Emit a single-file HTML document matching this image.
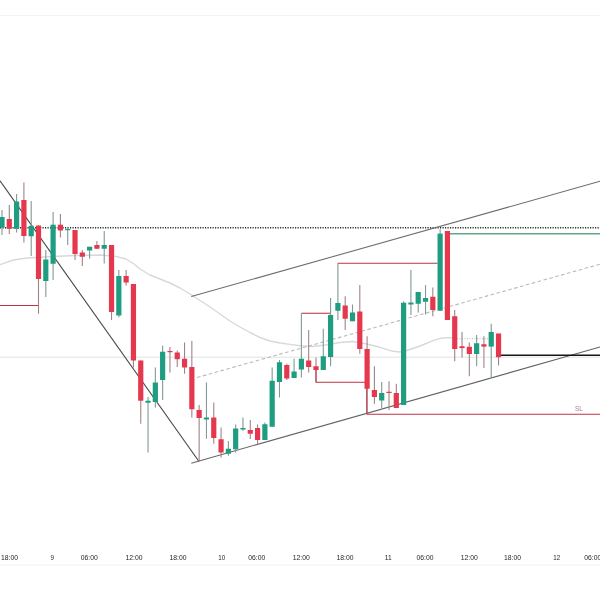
<!DOCTYPE html>
<html><head><meta charset="utf-8"><title>Chart</title>
<style>html,body{margin:0;padding:0;background:#fff;overflow:hidden}svg{display:block}text{font-family:"Liberation Sans",sans-serif}</style></head><body>
<svg width="600" height="600" viewBox="0 0 600 600">
<rect width="600" height="600" fill="#ffffff"/>
<line x1="0" y1="15.5" x2="600" y2="15.5" stroke="#f3f3f3" stroke-width="1"/>
<line x1="0" y1="565" x2="600" y2="565" stroke="#f1f1f1" stroke-width="1"/>
<line x1="0" y1="357.2" x2="600" y2="357.2" stroke="#dadada" stroke-width="0.8"/>
<polyline fill="none" stroke="#d5dad9" stroke-width="1.4" stroke-linejoin="round" points="0,264.7 13.3,260 26.7,258 40,257.2 53,256.5 75,255.5 100,255 116,256.4 126,259 134,264 140,269 150,275 160,279 170,283 180,288 190,294 200,300.5 210,307 220,314 230,321 240,327 250,332.5 260,337.5 270,341 280,343 290,344.4 300,345.8 313,346.5 326.7,344.7 340,342.5 353,341.5 366.7,344 380,347.3 393,351.3 400,352 406.7,350.5 420,346 433,340.7 441,338.2 449,337.6 457,338.2"/>
<line x1="457" y1="338.75" x2="488" y2="338.75" stroke="#9fb5ad" stroke-width="0.9" stroke-dasharray="1 1.5"/>
<line x1="0" y1="227.75" x2="600" y2="227.75" stroke="#2e2e2e" stroke-width="1.3" stroke-dasharray="1.2 1.3"/>
<line x1="0" y1="180.8" x2="199" y2="461.5" stroke="#444" stroke-width="1.1"/>
<line x1="191.3" y1="463.2" x2="600" y2="347" stroke="#646464" stroke-width="1.05"/>
<line x1="191.25" y1="296.6" x2="600" y2="181.2" stroke="#6c6c6c" stroke-width="1.05"/>
<line x1="197" y1="377.5" x2="600" y2="264.2" stroke="#bababa" stroke-width="1.1" stroke-dasharray="3.6 2.5"/>
<line x1="447" y1="233.75" x2="600" y2="233.75" stroke="#5fa886" stroke-width="1.4"/>
<g stroke="#be3042" stroke-width="1.05" fill="none">
<line x1="0" y1="305.5" x2="38.3" y2="305.5"/>
<line x1="301.5" y1="313.25" x2="330.5" y2="313.25"/>
<line x1="316" y1="382.25" x2="367" y2="382.25"/>
<line x1="337.75" y1="263.25" x2="437.5" y2="263.25"/>
<line x1="367" y1="414.25" x2="600" y2="414.25"/>
</g>
<line x1="500" y1="355.3" x2="600" y2="355.3" stroke="#151515" stroke-width="1.6"/>
<line x1="2.00" y1="210" x2="2.00" y2="235" stroke="#809a94" stroke-width="1.1"/>
<rect x="-0.60" y="217" width="5.2" height="10.5" fill="#1f9d80"/>
<line x1="9.30" y1="205" x2="9.30" y2="234" stroke="#a08388" stroke-width="1.1"/>
<rect x="6.70" y="219" width="5.2" height="9.75" fill="#e5384e"/>
<line x1="16.60" y1="194" x2="16.60" y2="232.5" stroke="#809a94" stroke-width="1.1"/>
<rect x="14.00" y="201.5" width="5.2" height="27.25" fill="#1f9d80"/>
<line x1="23.91" y1="182.5" x2="23.91" y2="242.5" stroke="#a08388" stroke-width="1.1"/>
<rect x="21.31" y="200" width="5.2" height="36" fill="#e5384e"/>
<line x1="31.21" y1="201" x2="31.21" y2="256" stroke="#809a94" stroke-width="1.1"/>
<rect x="28.61" y="225.8" width="5.2" height="10.45" fill="#1f9d80"/>
<line x1="38.51" y1="225.5" x2="38.51" y2="313.75" stroke="#a08388" stroke-width="1.1"/>
<rect x="35.91" y="225.5" width="5.2" height="53.5" fill="#e5384e"/>
<line x1="45.81" y1="250" x2="45.81" y2="297" stroke="#809a94" stroke-width="1.1"/>
<rect x="43.21" y="259.5" width="5.2" height="21.5" fill="#1f9d80"/>
<line x1="53.11" y1="212" x2="53.11" y2="280" stroke="#809a94" stroke-width="1.1"/>
<rect x="50.51" y="224.7" width="5.2" height="39.05" fill="#1f9d80"/>
<line x1="60.42" y1="214" x2="60.42" y2="237.5" stroke="#a08388" stroke-width="1.1"/>
<rect x="57.82" y="224.7" width="5.2" height="5.8" fill="#e5384e"/>
<line x1="67.72" y1="227.5" x2="67.72" y2="245" stroke="#809a94" stroke-width="1.1"/>
<rect x="65.12" y="229" width="5.2" height="1.2" fill="#1f9d80"/>
<line x1="75.02" y1="230" x2="75.02" y2="260" stroke="#a08388" stroke-width="1.1"/>
<rect x="72.42" y="230" width="5.2" height="24" fill="#e5384e"/>
<line x1="82.32" y1="250" x2="82.32" y2="266" stroke="#a08388" stroke-width="1.1"/>
<rect x="79.72" y="252.5" width="5.2" height="4.25" fill="#e5384e"/>
<line x1="89.62" y1="246.75" x2="89.62" y2="258.75" stroke="#809a94" stroke-width="1.1"/>
<rect x="87.02" y="246.75" width="5.2" height="3.75" fill="#1f9d80"/>
<line x1="96.93" y1="241" x2="96.93" y2="249" stroke="#a08388" stroke-width="1.1"/>
<rect x="94.33" y="245" width="5.2" height="3.75" fill="#e5384e"/>
<line x1="104.23" y1="231" x2="104.23" y2="263.5" stroke="#809a94" stroke-width="1.1"/>
<rect x="101.63" y="245" width="5.2" height="3.75" fill="#1f9d80"/>
<line x1="111.53" y1="245" x2="111.53" y2="320" stroke="#a08388" stroke-width="1.1"/>
<rect x="108.93" y="245" width="5.2" height="67" fill="#e5384e"/>
<line x1="118.83" y1="270" x2="118.83" y2="317.5" stroke="#809a94" stroke-width="1.1"/>
<rect x="116.23" y="276" width="5.2" height="39.5" fill="#1f9d80"/>
<line x1="126.13" y1="270" x2="126.13" y2="285.5" stroke="#a08388" stroke-width="1.1"/>
<rect x="123.53" y="276" width="5.2" height="6.5" fill="#e5384e"/>
<line x1="133.44" y1="284" x2="133.44" y2="367.5" stroke="#a08388" stroke-width="1.1"/>
<rect x="130.84" y="284" width="5.2" height="76.5" fill="#e5384e"/>
<line x1="140.74" y1="360.5" x2="140.74" y2="423.75" stroke="#a08388" stroke-width="1.1"/>
<rect x="138.14" y="360.5" width="5.2" height="40.25" fill="#e5384e"/>
<line x1="148.04" y1="397" x2="148.04" y2="452.5" stroke="#809a94" stroke-width="1.1"/>
<rect x="145.44" y="400.75" width="5.2" height="2" fill="#1f9d80"/>
<line x1="155.34" y1="367.5" x2="155.34" y2="407.5" stroke="#809a94" stroke-width="1.1"/>
<rect x="152.74" y="382.5" width="5.2" height="19.5" fill="#1f9d80"/>
<line x1="162.64" y1="345.5" x2="162.64" y2="400" stroke="#809a94" stroke-width="1.1"/>
<rect x="160.04" y="351.75" width="5.2" height="28.25" fill="#1f9d80"/>
<line x1="169.95" y1="347" x2="169.95" y2="372.5" stroke="#a08388" stroke-width="1.1"/>
<rect x="167.35" y="351" width="5.2" height="1.2" fill="#e5384e"/>
<line x1="177.25" y1="350.5" x2="177.25" y2="367" stroke="#a08388" stroke-width="1.1"/>
<rect x="174.65" y="352.5" width="5.2" height="6.75" fill="#e5384e"/>
<line x1="184.55" y1="342.5" x2="184.55" y2="373.75" stroke="#a08388" stroke-width="1.1"/>
<rect x="181.95" y="358.75" width="5.2" height="8.75" fill="#e5384e"/>
<line x1="191.85" y1="341" x2="191.85" y2="417.5" stroke="#a08388" stroke-width="1.1"/>
<rect x="189.25" y="367" width="5.2" height="42.25" fill="#e5384e"/>
<line x1="199.15" y1="405" x2="199.15" y2="461" stroke="#a08388" stroke-width="1.1"/>
<rect x="196.55" y="410" width="5.2" height="8" fill="#e5384e"/>
<line x1="206.46" y1="382.5" x2="206.46" y2="438.75" stroke="#809a94" stroke-width="1.1"/>
<rect x="203.86" y="417.5" width="5.2" height="2" fill="#1f9d80"/>
<line x1="213.76" y1="402.5" x2="213.76" y2="443.75" stroke="#a08388" stroke-width="1.1"/>
<rect x="211.16" y="417.5" width="5.2" height="20.5" fill="#e5384e"/>
<line x1="221.06" y1="427.5" x2="221.06" y2="457.5" stroke="#a08388" stroke-width="1.1"/>
<rect x="218.46" y="439.25" width="5.2" height="13.25" fill="#e5384e"/>
<line x1="228.36" y1="441" x2="228.36" y2="455.75" stroke="#809a94" stroke-width="1.1"/>
<rect x="225.76" y="448.75" width="5.2" height="5" fill="#1f9d80"/>
<line x1="235.66" y1="424.5" x2="235.66" y2="452.5" stroke="#809a94" stroke-width="1.1"/>
<rect x="233.06" y="428.5" width="5.2" height="20.75" fill="#1f9d80"/>
<line x1="242.97" y1="417.5" x2="242.97" y2="431" stroke="#809a94" stroke-width="1.1"/>
<rect x="240.37" y="428" width="5.2" height="1.5" fill="#1f9d80"/>
<line x1="250.27" y1="420" x2="250.27" y2="439" stroke="#a08388" stroke-width="1.1"/>
<rect x="247.67" y="430" width="5.2" height="3.75" fill="#e5384e"/>
<line x1="257.57" y1="424.5" x2="257.57" y2="443.75" stroke="#a08388" stroke-width="1.1"/>
<rect x="254.97" y="428" width="5.2" height="12" fill="#e5384e"/>
<line x1="264.87" y1="422.5" x2="264.87" y2="440" stroke="#809a94" stroke-width="1.1"/>
<rect x="262.27" y="424.25" width="5.2" height="15.75" fill="#1f9d80"/>
<line x1="272.17" y1="367.5" x2="272.17" y2="426.75" stroke="#809a94" stroke-width="1.1"/>
<rect x="269.57" y="380.75" width="5.2" height="46" fill="#1f9d80"/>
<line x1="279.48" y1="360" x2="279.48" y2="397.5" stroke="#809a94" stroke-width="1.1"/>
<rect x="276.88" y="362.25" width="5.2" height="19.75" fill="#1f9d80"/>
<line x1="286.78" y1="363.75" x2="286.78" y2="380" stroke="#a08388" stroke-width="1.1"/>
<rect x="284.18" y="365" width="5.2" height="13.5" fill="#e5384e"/>
<line x1="294.08" y1="358.75" x2="294.08" y2="378" stroke="#809a94" stroke-width="1.1"/>
<rect x="291.48" y="371.5" width="5.2" height="6.5" fill="#1f9d80"/>
<line x1="301.38" y1="313.25" x2="301.38" y2="377.5" stroke="#809a94" stroke-width="1.1"/>
<rect x="298.78" y="358.75" width="5.2" height="10.75" fill="#1f9d80"/>
<line x1="308.68" y1="330" x2="308.68" y2="372.5" stroke="#a08388" stroke-width="1.1"/>
<rect x="306.08" y="360.5" width="5.2" height="6.5" fill="#e5384e"/>
<line x1="315.99" y1="357.5" x2="315.99" y2="382.5" stroke="#a08388" stroke-width="1.1"/>
<rect x="313.39" y="366.25" width="5.2" height="3.75" fill="#e5384e"/>
<line x1="323.29" y1="328.75" x2="323.29" y2="370" stroke="#809a94" stroke-width="1.1"/>
<rect x="320.69" y="356.25" width="5.2" height="13.75" fill="#1f9d80"/>
<line x1="330.59" y1="298" x2="330.59" y2="366.25" stroke="#809a94" stroke-width="1.1"/>
<rect x="327.99" y="315" width="5.2" height="42" fill="#1f9d80"/>
<line x1="337.89" y1="263.25" x2="337.89" y2="320" stroke="#809a94" stroke-width="1.1"/>
<rect x="335.29" y="303" width="5.2" height="7.75" fill="#1f9d80"/>
<line x1="345.19" y1="296.25" x2="345.19" y2="330" stroke="#a08388" stroke-width="1.1"/>
<rect x="342.59" y="305.5" width="5.2" height="13.25" fill="#e5384e"/>
<line x1="352.50" y1="304.5" x2="352.50" y2="321.25" stroke="#809a94" stroke-width="1.1"/>
<rect x="349.90" y="312.5" width="5.2" height="8.75" fill="#1f9d80"/>
<line x1="359.80" y1="285" x2="359.80" y2="353.75" stroke="#a08388" stroke-width="1.1"/>
<rect x="357.20" y="311.5" width="5.2" height="37.5" fill="#e5384e"/>
<line x1="367.10" y1="336.25" x2="367.10" y2="413.75" stroke="#a08388" stroke-width="1.1"/>
<rect x="364.50" y="349" width="5.2" height="39.75" fill="#e5384e"/>
<line x1="374.40" y1="366.25" x2="374.40" y2="403.75" stroke="#a08388" stroke-width="1.1"/>
<rect x="371.80" y="390" width="5.2" height="7" fill="#e5384e"/>
<line x1="381.70" y1="382" x2="381.70" y2="408" stroke="#809a94" stroke-width="1.1"/>
<rect x="379.10" y="393" width="5.2" height="7.5" fill="#1f9d80"/>
<line x1="389.01" y1="381.25" x2="389.01" y2="410" stroke="#a08388" stroke-width="1.1"/>
<rect x="386.41" y="391.75" width="5.2" height="1.25" fill="#e5384e"/>
<line x1="396.31" y1="383.75" x2="396.31" y2="408" stroke="#a08388" stroke-width="1.1"/>
<rect x="393.71" y="393" width="5.2" height="15" fill="#e5384e"/>
<line x1="403.61" y1="301.25" x2="403.61" y2="405" stroke="#809a94" stroke-width="1.1"/>
<rect x="401.01" y="302.75" width="5.2" height="102.25" fill="#1f9d80"/>
<line x1="410.91" y1="270" x2="410.91" y2="315" stroke="#809a94" stroke-width="1.1"/>
<rect x="408.31" y="302.5" width="5.2" height="2" fill="#1f9d80"/>
<line x1="418.21" y1="292" x2="418.21" y2="312.5" stroke="#809a94" stroke-width="1.1"/>
<rect x="415.61" y="292" width="5.2" height="11.75" fill="#1f9d80"/>
<line x1="425.52" y1="285" x2="425.52" y2="314.5" stroke="#809a94" stroke-width="1.1"/>
<rect x="422.92" y="298" width="5.2" height="3.75" fill="#1f9d80"/>
<line x1="432.82" y1="287.5" x2="432.82" y2="316.25" stroke="#a08388" stroke-width="1.1"/>
<rect x="430.22" y="296.75" width="5.2" height="13.25" fill="#e5384e"/>
<line x1="440.12" y1="229.25" x2="440.12" y2="310.75" stroke="#809a94" stroke-width="1.1"/>
<rect x="437.52" y="233.6" width="5.2" height="77.15" fill="#1f9d80"/>
<line x1="447.42" y1="231" x2="447.42" y2="320" stroke="#a08388" stroke-width="1.1"/>
<rect x="444.82" y="231" width="5.2" height="89" fill="#e5384e"/>
<line x1="454.72" y1="310" x2="454.72" y2="361.25" stroke="#a08388" stroke-width="1.1"/>
<rect x="452.12" y="316.25" width="5.2" height="32.75" fill="#e5384e"/>
<line x1="462.03" y1="332" x2="462.03" y2="357.5" stroke="#a08388" stroke-width="1.1"/>
<rect x="459.43" y="346.25" width="5.2" height="1.85" fill="#e5384e"/>
<line x1="469.33" y1="342.5" x2="469.33" y2="376.25" stroke="#a08388" stroke-width="1.1"/>
<rect x="466.73" y="346.75" width="5.2" height="7.25" fill="#e5384e"/>
<line x1="476.63" y1="335" x2="476.63" y2="366.25" stroke="#809a94" stroke-width="1.1"/>
<rect x="474.03" y="343.25" width="5.2" height="10.75" fill="#1f9d80"/>
<line x1="483.93" y1="336.25" x2="483.93" y2="368" stroke="#a08388" stroke-width="1.1"/>
<rect x="481.33" y="344.25" width="5.2" height="2.35" fill="#e5384e"/>
<line x1="491.23" y1="323.75" x2="491.23" y2="377.5" stroke="#809a94" stroke-width="1.1"/>
<rect x="488.63" y="332" width="5.2" height="14.6" fill="#1f9d80"/>
<line x1="498.54" y1="333.5" x2="498.54" y2="365.5" stroke="#a08388" stroke-width="1.1"/>
<rect x="495.94" y="333.5" width="5.2" height="23.75" fill="#e5384e"/>
<g stroke="#be3042" stroke-width="1.05" fill="none">
<line x1="316.0" y1="370" x2="316.0" y2="382.25"/>
<line x1="366.8" y1="388" x2="366.8" y2="414.25"/>
</g>
<text x="579" y="410.9" font-size="6.4" fill="#a8808a" text-anchor="middle">SL</text>
<text x="9.5" y="559.8" font-size="7.8" fill="#262626" text-anchor="middle" textLength="17" lengthAdjust="spacingAndGlyphs">18:00</text>
<text x="52.3" y="559.8" font-size="7.8" fill="#262626" text-anchor="middle" textLength="3.5" lengthAdjust="spacingAndGlyphs">9</text>
<text x="89.3" y="559.8" font-size="7.8" fill="#262626" text-anchor="middle" textLength="17" lengthAdjust="spacingAndGlyphs">06:00</text>
<text x="134" y="559.8" font-size="7.8" fill="#262626" text-anchor="middle" textLength="17" lengthAdjust="spacingAndGlyphs">12:00</text>
<text x="178" y="559.8" font-size="7.8" fill="#262626" text-anchor="middle" textLength="17" lengthAdjust="spacingAndGlyphs">18:00</text>
<text x="221.7" y="559.8" font-size="7.8" fill="#262626" text-anchor="middle" textLength="6.9" lengthAdjust="spacingAndGlyphs">10</text>
<text x="256.7" y="559.8" font-size="7.8" fill="#262626" text-anchor="middle" textLength="17" lengthAdjust="spacingAndGlyphs">06:00</text>
<text x="301.3" y="559.8" font-size="7.8" fill="#262626" text-anchor="middle" textLength="17" lengthAdjust="spacingAndGlyphs">12:00</text>
<text x="345" y="559.8" font-size="7.8" fill="#262626" text-anchor="middle" textLength="17" lengthAdjust="spacingAndGlyphs">18:00</text>
<text x="388.3" y="559.8" font-size="7.8" fill="#262626" text-anchor="middle" textLength="6.9" lengthAdjust="spacingAndGlyphs">11</text>
<text x="425" y="559.8" font-size="7.8" fill="#262626" text-anchor="middle" textLength="17" lengthAdjust="spacingAndGlyphs">06:00</text>
<text x="469.2" y="559.8" font-size="7.8" fill="#262626" text-anchor="middle" textLength="17" lengthAdjust="spacingAndGlyphs">12:00</text>
<text x="512.5" y="559.8" font-size="7.8" fill="#262626" text-anchor="middle" textLength="17" lengthAdjust="spacingAndGlyphs">18:00</text>
<text x="556.7" y="559.8" font-size="7.8" fill="#262626" text-anchor="middle" textLength="6.9" lengthAdjust="spacingAndGlyphs">12</text>
<text x="592.7" y="559.8" font-size="7.8" fill="#262626" text-anchor="middle" textLength="17" lengthAdjust="spacingAndGlyphs">06:00</text>
</svg></body></html>
